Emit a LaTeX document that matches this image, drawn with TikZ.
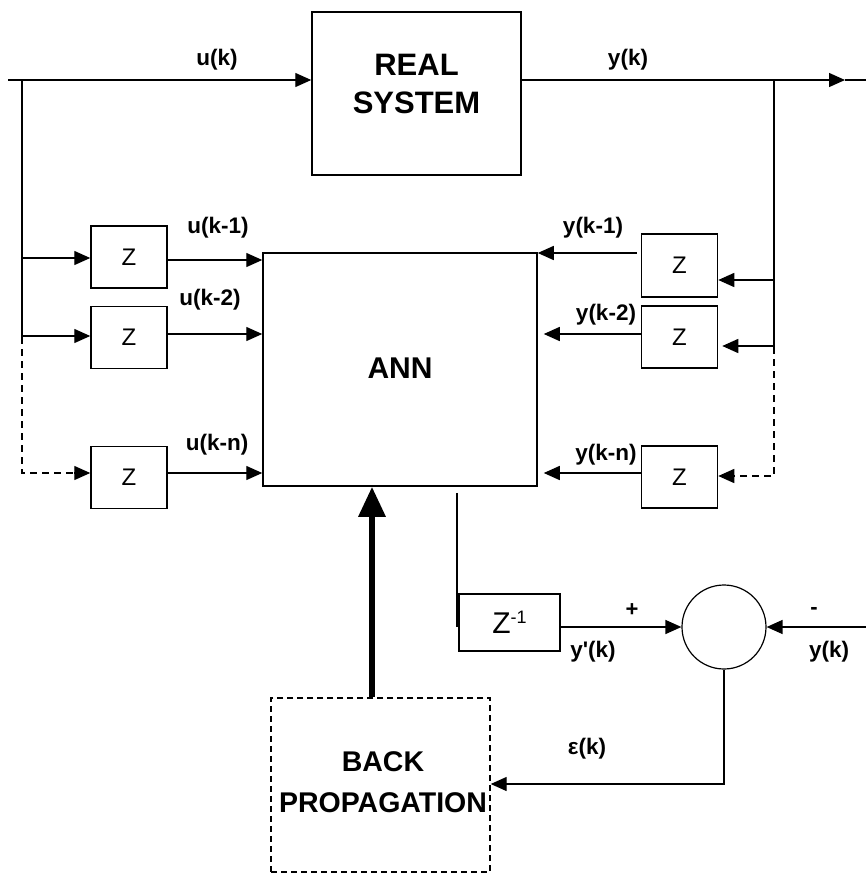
\documentclass[tikz,border=0pt]{standalone}
\usepackage{fontspec}
\setmainfont{Liberation Sans}
\usetikzlibrary{arrows.meta}
\tikzset{
  blk/.style={draw, line width=1.5pt, inner sep=0pt, font=\fontsize{30}{36}\selectfont\bfseries},
  zbox/.style={draw, line width=1.5pt, inner sep=0pt, minimum width=76pt, minimum height=62pt, font=\fontsize{24}{28}\selectfont},
  lbl/.style={font=\fontsize{22.5}{26}\selectfont\bfseries, inner sep=0pt},
  wire/.style={line width=1.4pt},
  arr/.style={line width=1.4pt, -{Triangle[length=16pt,width=14pt]}},
  dwire/.style={line width=1.4pt, dash pattern=on 7pt off 5pt},
}
\begin{document}
\begin{tikzpicture}[x=1pt,y=-1pt]
\useasboundingbox (0,0) rectangle (866,876);
% blocks
\node[blk, minimum width=209pt, minimum height=163pt] (rs) at (416.5,93.5) {};
\node[font=\fontsize{31}{38}\selectfont\bfseries, align=center, inner sep=0pt] (rst) at (416.5,84) {REAL\\SYSTEM};
\node[blk, minimum width=274pt, minimum height=233pt] (ann) at (400,369.5) {};
\node[font=\fontsize{30}{34}\selectfont\bfseries, inner sep=0pt] (annt) at (400,368) {ANN};
% left delay boxes
\node[zbox] (zl1) at (129,257) {Z};
\node[zbox] (zl2) at (129,337.5) {Z};
\node[zbox] (zl3) at (129,477.5) {Z};
% right delay boxes
\node[zbox, minimum height=63pt] (zr1) at (679.5,265.5) {Z};
\node[zbox] (zr2) at (679.5,337) {Z};
\node[zbox] (zr3) at (679.5,477) {Z};
% Z^-1 box
\node[draw, line width=1.5pt, inner sep=0pt, minimum width=101pt, minimum height=57pt, font=\fontsize{30}{34}\selectfont] (zinv) at (509.5,622.5) {Z\raisebox{10pt}{\fontsize{18}{20}\selectfont -1}};
% summing circle
\node[circle, draw, line width=1.2pt, minimum size=84pt, inner sep=0pt] (sum) at (724,627) {};
% back propagation
\node[draw, line width=1.4pt, dash pattern=on 6pt off 4pt, minimum width=219pt, minimum height=174pt, inner sep=0pt] (bp) at (380.5,785) {};
\node[font=\fontsize{28.5}{41}\selectfont\bfseries, align=center, inner sep=0pt] (bpt) at (383,782) {BACK\\PROPAGATION};

% coordinates
\coordinate (inL) at (8,80);
\coordinate (jL) at (22,80);
\coordinate (jL1) at (22,258);
\coordinate (jL2) at (22,336);
\coordinate (jL3) at (22,473);
\coordinate (outR) at (866,80);
\coordinate (tipR) at (845,80);
\coordinate (jR) at (774,80);
\coordinate (jR1) at (774,280);
\coordinate (jR2) at (774,346);
\coordinate (jR3) at (774,476);
\coordinate (yin) at (866,627);

% top path
\draw[arr] (inL) -- (rs.west |- inL);
\draw[arr] (rs.east |- tipR) -- (tipR);
\draw[wire] (tipR) -- (outR);
% left feed
\draw[wire] (jL) -- (22,337);
\draw[dwire] (22,337) -- (jL3) -- ([xshift=-16pt]zl3.west |- jL3);
\draw[arr] ([xshift=-16.5pt]zl3.west |- jL3) -- (zl3.west |- jL3);
\draw[arr] (jL1) -- (zl1.west |- jL1);
\draw[arr] (jL2) -- (zl2.west |- jL2);
% left outputs
\draw[arr] (zl1.east |- 0,260) -- (ann.west |- 0,260);
\draw[arr] (zl2.east |- 0,334) -- (ann.west |- 0,334);
\draw[arr] (zl3.east |- 0,473) -- (ann.west |- 0,473);
% right feed
\draw[wire] (jR) -- (774,347);
\draw[dwire] (774,347) -- (jR3) -- ([xshift=16pt]zr3.east |- jR3);
\draw[arr] ([xshift=16.5pt]zr3.east |- jR3) -- (zr3.east |- jR3);
\draw[arr] (jR1) -- (zr1.east |- jR1);
\draw[arr] (jR2) -- ([xshift=4pt]zr2.east |- jR2);
% right outputs
\draw[arr] ([xshift=-4pt]zr1.west |- 0,253) -- (ann.east |- 0,253);
\draw[arr] (zr2.west |- 0,334) -- ([xshift=6pt]ann.east |- 0,334);
\draw[arr] (zr3.west |- 0,473) -- ([xshift=6pt]ann.east |- 0,473);
% ANN output to Z^-1
\draw[wire] ([yshift=-6pt]ann.south -| 457,0) -- (457,627);
\draw[arr] (zinv.east |- sum) -- (sum.west);
\draw[arr] (yin) -- (sum.east);
% error
\draw[arr] (sum.south) |- (bp.east |- 0,784);
% thick backprop arrow
\draw[line width=6pt, -{Triangle[length=30pt,width=26pt]}] (bp.north -| 372,0) -- (ann.south -| 372,0);

% labels
\node[lbl] (lu) at (217,60) {u(k)};
\node[lbl] (ly) at (628,60) {y(k)};
\node[lbl] (lu1) at (218,228) {u(k-1)};
\node[lbl] (lu2) at (210,300) {u(k-2)};
\node[lbl] (lun) at (217,445) {u(k-n)};
\node[lbl] (ly1) at (593,228) {y(k-1)};
\node[lbl] (ly2) at (606,315) {y(k-2)};
\node[lbl] (lyn) at (606,455) {y(k-n)};
\node[font=\fontsize{22}{26}\selectfont\bfseries, inner sep=0pt] (lp) at (632,610) {+};
\node[font=\fontsize{22}{26}\selectfont\bfseries, inner sep=0pt] (lm) at (814,611) {-};
\node[lbl] (lyp) at (593,652) {y\textquotesingle(k)};
\node[lbl] (lyk) at (829,652) {y(k)};
\node[lbl] (le) at (587,749) {\char"03B5(k)};
\end{tikzpicture}
\end{document}
